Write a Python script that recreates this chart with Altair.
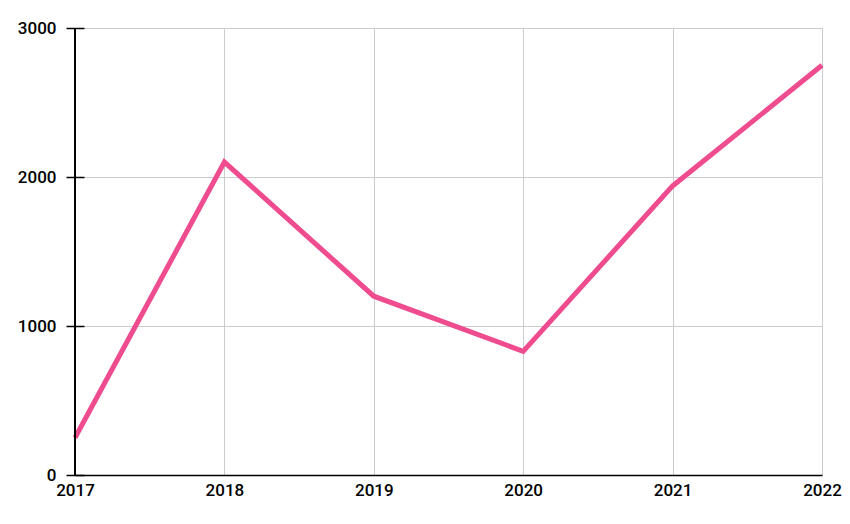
import altair as alt
import pandas as pd

years = ["2017", "2018", "2019", "2020", "2021", "2022"]
values = [250, 2100, 1200, 830, 1940, 2750]
y_ticks = [0, 1000, 2000, 3000]

df = pd.DataFrame({"year": years, "value": values})
ticks_df = pd.DataFrame({"t": y_ticks})

W, H = 747, 447
FONT = "Roboto"

base = alt.Chart(df)

line = base.mark_line(color="#EE4C8E", strokeWidth=5, strokeJoin="miter").encode(
    x=alt.X("year:O", title=None, sort=years,
            scale=alt.Scale(type="point", padding=0),
            axis=alt.Axis(labelAngle=0, ticks=False, domain=True, domainColor="#000000",
                          domainWidth=1.5, grid=True, gridColor="#cccccc", gridWidth=1,
                          labelFont=FONT, labelFontSize=17, labelFontWeight=500,
                          labelColor="#000000", labelPadding=7)),
    y=alt.Y("value:Q", title=None,
            scale=alt.Scale(domain=[0, 3000], nice=False),
            axis=alt.Axis(values=y_ticks, format="d", domain=False, tickSize=18, offset=-9,
                          tickColor="#000000", tickWidth=1.5, grid=True, gridColor="#cccccc",
                          gridWidth=1, labelFont=FONT, labelFontSize=17, labelFontWeight=500,
                          labelColor="#000000", labelPadding=10)),
)

yaxis_line = alt.Chart(ticks_df).mark_rule(color="#000000", strokeWidth=1.5).encode(
    x=alt.value(0), y=alt.value(0), y2=alt.value(H)
)

chart = alt.layer(line, yaxis_line).properties(
    width=W, height=H, padding={"left": 9, "top": 11, "right": 0, "bottom": 5}
).configure_view(stroke=None).configure_axis(gridOpacity=1)

chart.save("out.html", embed_options={"renderer": "svg", "actions": False})
